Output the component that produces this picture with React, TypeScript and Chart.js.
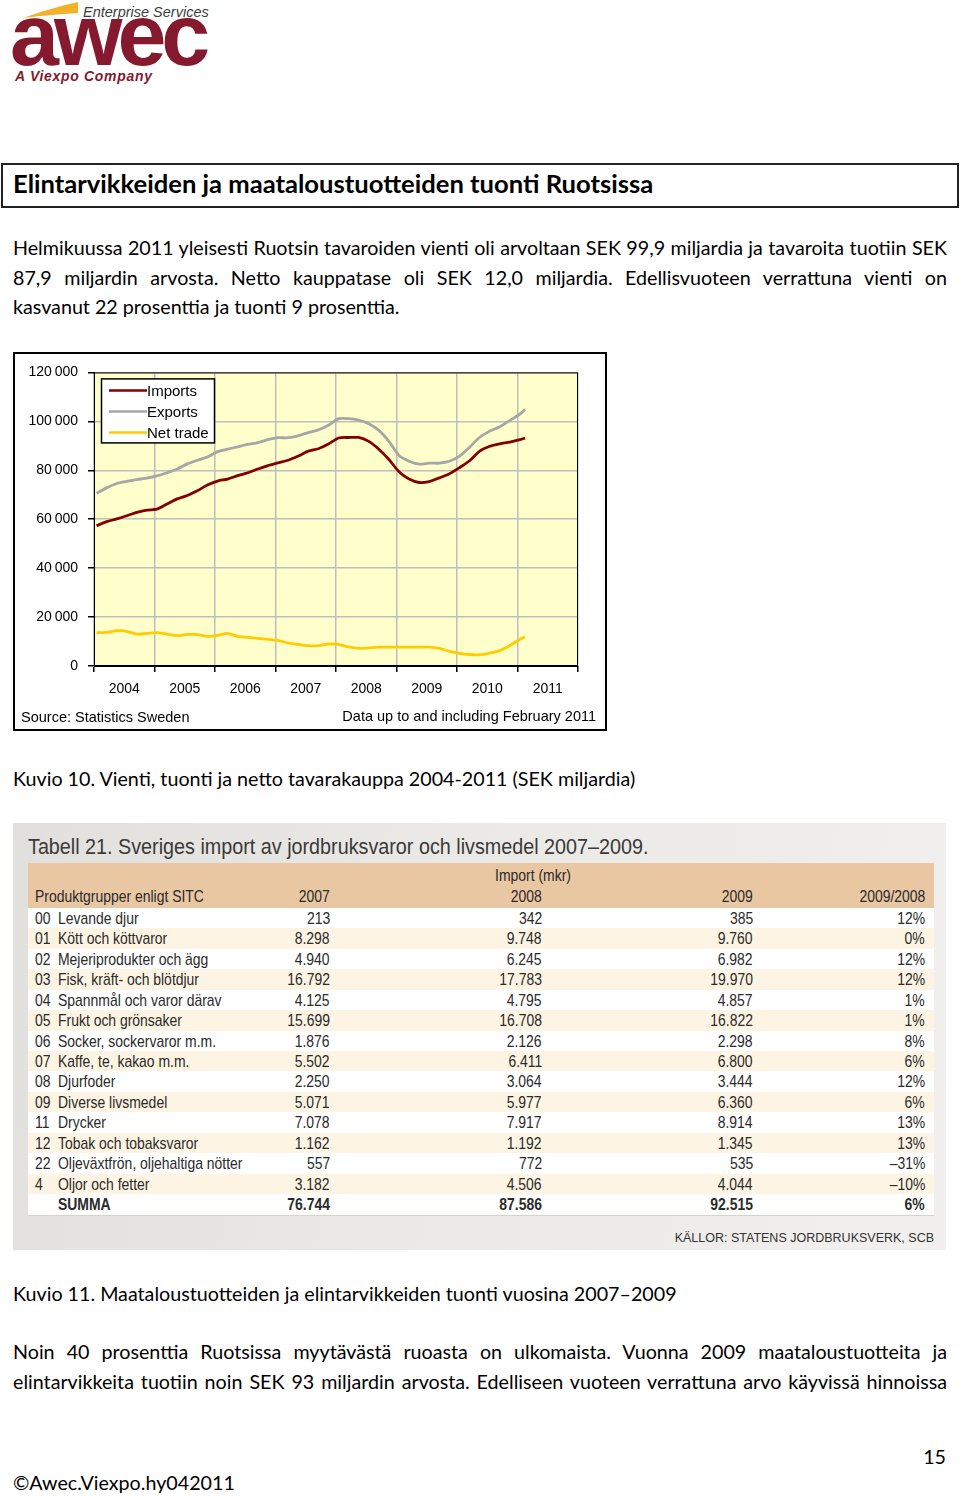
import React, { useEffect, useRef } from "react";
import { Chart, registerables } from "chart.js";

Chart.register(...registerables);

// ---------------- chart data ----------------
const MONTHS = [
  "2004-01", "2004-03", "2004-05", "2004-07", "2004-09", "2004-11",
  "2005-01", "2005-03", "2005-05", "2005-07", "2005-09", "2005-11",
  "2006-01", "2006-03", "2006-05", "2006-07", "2006-09", "2006-11",
  "2007-01", "2007-03", "2007-05", "2007-07", "2007-09", "2007-11",
  "2008-01", "2008-03", "2008-05", "2008-07", "2008-09", "2008-11",
  "2009-01", "2009-03", "2009-05", "2009-07", "2009-09", "2009-11",
  "2010-01", "2010-03", "2010-05", "2010-07", "2010-09", "2010-11",
  "2011-01", "2011-02",
];

const IMPORTS = [
  57300, 59000, 60100, 61400, 62800, 63700,
  64100, 66200, 68300, 69700, 71600, 74000,
  75600, 76400, 77800, 79000, 80500, 81900,
  83000, 84100, 85800, 87800, 88800, 90700,
  93200, 93400, 93400, 91800, 88600, 84400,
  79400, 76400, 75000, 75400, 76900, 78600,
  81100, 83900, 87800, 89800, 90800, 91500,
  92500, 93200,
];

const EXPORTS = [
  70600, 72800, 74600, 75500, 76200, 76800,
  77700, 79000, 80500, 82600, 84100, 85400,
  87600, 88600, 89600, 90600, 91300, 92500,
  93300, 93300, 94100, 95400, 96500, 98400,
  101100, 101100, 100500, 99000, 96300, 91800,
  86000, 83700, 82500, 82900, 82900, 83700,
  85800, 89400, 93500, 96000, 97800, 100400,
  103000, 104900,
];

const NET_TRADE = [
  13600, 13700, 14400, 14200, 13000, 13300,
  13600, 13000, 12400, 12900, 12800, 12100,
  12500, 13300, 12100, 11700, 11300, 10900,
  10500, 9400, 8800, 8300, 8300, 9000,
  8800, 7800, 7200, 7400, 7700, 7700,
  7700, 7700, 7700, 7700, 7200, 6000,
  5200, 4700, 4600, 5300, 6300, 8400,
  10900, 11900,
];

const SERIES_NAMES = ["Imports", "Exports", "Net trade"];
const SERIES_COLORS = ["#820000", "#A6A6A6", "#FFCC00"];
const YEAR_LABELS = ["2004", "2005", "2006", "2007", "2008", "2009", "2010", "2011"];
const Y_MIN = 0;
const Y_MAX = 120000;
const Y_STEP = 20000;
const SOURCE_TEXT = "Source: Statistics Sweden";
const NOTE_TEXT = "Data up to and including February 2011";

// ---------------- page text data ----------------
const HEADING = "Elintarvikkeiden ja maataloustuotteiden tuonti Ruotsissa";
const P1_LINES = [
  "Helmikuussa 2011 yleisesti Ruotsin tavaroiden vienti oli arvoltaan SEK 99,9 miljardia ja tavaroita tuotiin SEK",
  "87,9 miljardin arvosta. Netto kauppatase oli SEK 12,0 miljardia. Edellisvuoteen verrattuna vienti on",
  "kasvanut 22 prosenttia ja tuonti 9 prosenttia.",
];
const CAPTION_10 = "Kuvio 10. Vienti, tuonti ja netto tavarakauppa 2004-2011 (SEK miljardia)";
const CAPTION_11 = "Kuvio 11. Maataloustuotteiden ja elintarvikkeiden tuonti vuosina 2007–2009";
const P2_LINES = [
  "Noin 40 prosenttia Ruotsissa myytävästä ruoasta on ulkomaista. Vuonna 2009 maataloustuotteita ja",
  "elintarvikkeita tuotiin noin SEK 93 miljardin arvosta. Edelliseen vuoteen verrattuna arvo käyvissä hinnoissa",
];

const TABLE_TITLE = "Tabell 21. Sveriges import av jordbruksvaror och livsmedel 2007–2009.";
const TABLE_GROUP = "Import (mkr)";
const TABLE_HEAD = ["Produktgrupper enligt SITC", "2007", "2008", "2009", "2009/2008"];
const TABLE_CODES = ["00", "01", "02", "03", "04", "05", "06", "07", "08", "09", "11", "12", "22", "4", ""];
const TABLE_NAMES = [
  "Levande djur", "Kött och köttvaror", "Mejeriprodukter och ägg", "Fisk, kräft- och blötdjur",
  "Spannmål och varor därav", "Frukt och grönsaker", "Socker, sockervaror m.m.", "Kaffe, te, kakao m.m.",
  "Djurfoder", "Diverse livsmedel", "Drycker", "Tobak och tobaksvaror",
  "Oljeväxtfrön, oljehaltiga nötter", "Oljor och fetter", "SUMMA",
];
const V2007 = ["213", "8.298", "4.940", "16.792", "4.125", "15.699", "1.876", "5.502", "2.250", "5.071", "7.078", "1.162", "557", "3.182", "76.744"];
const V2008 = ["342", "9.748", "6.245", "17.783", "4.795", "16.708", "2.126", "6.411", "3.064", "5.977", "7.917", "1.192", "772", "4.506", "87.586"];
const V2009 = ["385", "9.760", "6.982", "19.970", "4.857", "16.822", "2.298", "6.800", "3.444", "6.360", "8.914", "1.345", "535", "4.044", "92.515"];
const PCT = ["12%", "0%", "12%", "12%", "1%", "1%", "8%", "6%", "12%", "6%", "13%", "13%", "–31%", "–10%", "6%"];
const TABLE_SOURCE = "KÄLLOR: STATENS JORDBRUKSVERK, SCB";

const PAGE_NO = "15";
const FOOTER = "©Awec.Viexpo.hy042011";

// ---------------- helpers ----------------
const monthToX = (m: string) => {
  const [y, mo] = m.split("-").map(Number);
  return y + (mo - 0.5) / 12;
};

const CHART_FONT = "'Liberation Sans', Arial, sans-serif";

const isHalf = (v: number) => Math.abs(v % 1) > 0.01;

const bgPlugin = {
  id: "plotBg",
  beforeDraw(chart: any) {
    const { ctx, chartArea } = chart;
    ctx.save();
    ctx.fillStyle = "#FFFFCC";
    ctx.fillRect(chartArea.left, chartArea.top, chartArea.right - chartArea.left, chartArea.bottom - chartArea.top);
    ctx.restore();
  },
};

const framePlugin = {
  id: "plotFrame",
  afterDraw(chart: any) {
    const { ctx, chartArea } = chart;
    ctx.save();
    ctx.strokeStyle = "#000";
    ctx.lineWidth = 1;
    ctx.strokeRect(chartArea.left + 0.5, chartArea.top + 0.5, chartArea.right - chartArea.left - 1, chartArea.bottom - chartArea.top - 1);

    // legend
    const bx = chartArea.left + 7;
    const by = chartArea.top + 6;
    const bw = 113;
    const bh = 64;
    ctx.fillStyle = "#fff";
    ctx.fillRect(bx, by, bw, bh);
    ctx.strokeStyle = "#000";
    ctx.lineWidth = 1.5;
    ctx.strokeRect(bx + 0.5, by + 0.5, bw, bh);
    ctx.font = `15px ${CHART_FONT}`;
    ctx.textBaseline = "middle";
    ctx.textAlign = "left";
    chart.data.datasets.forEach((ds: any, i: number) => {
      const y = by + 12 + i * 21;
      ctx.strokeStyle = ds.borderColor;
      ctx.lineWidth = 2.5;
      ctx.beginPath();
      ctx.moveTo(bx + 8, y);
      ctx.lineTo(bx + 46, y);
      ctx.stroke();
      ctx.fillStyle = "#000";
      ctx.fillText(ds.label, bx + 46, y + 1);
    });

    // footer notes
    const h = chart.height;
    ctx.font = `14.5px ${CHART_FONT}`;
    ctx.fillStyle = "#000";
    ctx.textAlign = "left";
    ctx.fillText(SOURCE_TEXT, 6, h - 11);
    ctx.textAlign = "right";
    ctx.fillText(NOTE_TEXT, chart.width - 9, h - 12);
    ctx.restore();
  },
};

function TradeChart() {
  const ref = useRef<HTMLCanvasElement | null>(null);
  useEffect(() => {
    if (!ref.current) return;
    const series = [IMPORTS, EXPORTS, NET_TRADE];
    const chart = new Chart(ref.current, {
      type: "line",
      data: {
        datasets: series.map((vals, i) => ({
          label: SERIES_NAMES[i],
          data: MONTHS.map((m, j) => ({ x: monthToX(m), y: vals[j] })),
          borderColor: SERIES_COLORS[i],
          backgroundColor: SERIES_COLORS[i],
          borderWidth: 2.8,
          pointRadius: 0,
          tension: 0.25,
          fill: false,
        })),
      },
      options: {
        animation: false,
        responsive: false,
        devicePixelRatio: 1,
        layout: { padding: { top: 18, right: 27, bottom: 23, left: 0 } },
        plugins: { legend: { display: false }, tooltip: { enabled: false } },
        scales: {
          x: {
            type: "linear",
            min: 2004,
            max: 2012,
            afterBuildTicks: (s: any) => {
              const t: any[] = [];
              for (let y = 2004; y <= 2012; y++) {
                t.push({ value: y });
                if (y < 2012) t.push({ value: y + 0.5 });
              }
              s.ticks = t;
            },
            afterFit: (s: any) => {
              s.height = 40;
            },
            ticks: {
              autoSkip: false,
              maxRotation: 0,
              minRotation: 0,
              padding: 9,
              color: "#000",
              font: { family: CHART_FONT, size: 14 },
              callback: (v: any) => (isHalf(Number(v)) ? YEAR_LABELS[Math.floor(Number(v)) - 2004] : ""),
            },
            grid: {
              color: (c: any) => (c.tick && isHalf(c.tick.value) ? "rgba(0,0,0,0)" : "#BEBEBE"),
              tickColor: (c: any) => (c.tick && isHalf(c.tick.value) ? "rgba(0,0,0,0)" : "#000"),
              lineWidth: 1.5,
              tickLength: 6,
            },
            border: { color: "#000", width: 1 },
          },
          y: {
            min: Y_MIN,
            max: Y_MAX,
            afterFit: (s: any) => {
              s.width = 79;
            },
            ticks: {
              stepSize: Y_STEP,
              padding: 10,
              color: "#000",
              font: { family: CHART_FONT, size: 14 },
              callback: (v: any) => {
                const n = Number(v);
                if (n === 0) return "0";
                const th = Math.floor(n / 1000);
                const rest = String(n % 1000).padStart(3, "0");
                return `${th}\u2009${rest}`;
              },
            },
            grid: { color: "#BEBEBE", lineWidth: 1.5, tickColor: "#000", tickLength: 6 },
            border: { color: "#000", width: 1 },
          },
        },
      } as any,
      plugins: [bgPlugin, framePlugin],
    });
    return () => chart.destroy();
  }, []);
  return <canvas ref={ref} width={590} height={375} style={{ display: "block" }} />;
}

const BODY_FONT = "Lato, 'Open Sans', sans-serif";
const TABLE_FONT = "'Liberation Sans', Arial, sans-serif";
const SQUEEZE = 0.82;

function Line({ text, top, justify }: { text: string; top: number; justify: boolean }) {
  return (
    <div
      style={{
        position: "absolute",
        left: 13,
        top,
        width: 934,
        fontSize: 19.7,
        lineHeight: "29.5px",
        textAlign: justify ? "justify" : "left",
        textAlignLast: justify ? "justify" : "left",
        wordSpacing: justify ? "-2px" : "normal",
        color: "#000",
      } as any}
    >
      {text}
    </div>
  );
}

function Sq({ t, left, right, bold, center }: { t: string; left?: number; right?: number; bold?: boolean; center?: boolean }) {
  const style: any = {
    position: "absolute",
    top: 0,
    display: "inline-block",
    whiteSpace: "nowrap",
    fontWeight: bold ? 700 : 400,
  };
  if (center) {
    style.left = left;
    style.transform = `translateX(-50%) scaleX(${SQUEEZE})`;
    style.transformOrigin = "center";
  } else if (right !== undefined) {
    style.right = right;
    style.transform = `scaleX(${SQUEEZE})`;
    style.transformOrigin = "right center";
  } else {
    style.left = left;
    style.transform = `scaleX(${SQUEEZE})`;
    style.transformOrigin = "left center";
  }
  return <span style={style}>{t}</span>;
}

function Table() {
  const rowH = 20.43;
  const colRights = [604, 392, 181, 9];
  return (
    <div
      style={{
        position: "absolute",
        left: 13,
        top: 823,
        width: 933,
        height: 427,
        background: "linear-gradient(100deg, #e2e0dc 0%, #ebe9e6 45%, #f1f0ee 100%)",
        fontFamily: TABLE_FONT,
        color: "#2b2b2b",
      }}
    >
      <div
        style={{
          position: "absolute",
          left: 15,
          top: 10,
          fontSize: 22,
          lineHeight: "28px",
          color: "#3a3a3a",
          whiteSpace: "nowrap",
          transform: "scaleX(0.898)",
          transformOrigin: "left center",
        }}
      >
        {TABLE_TITLE}
      </div>
      <div style={{ position: "absolute", left: 15, top: 40, width: 906, height: 45, background: "#E9C7A3", fontSize: 17 }}>
        <div style={{ position: "absolute", left: 0, top: 3, width: 906, height: 20, lineHeight: "20px" }}>
          <Sq t={TABLE_GROUP} left={505} center />
        </div>
        <div style={{ position: "absolute", left: 0, top: 23, width: 906, height: 22, lineHeight: "22px" }}>
          <Sq t={TABLE_HEAD[0]} left={7} />
          <Sq t={TABLE_HEAD[1]} right={colRights[0]} />
          <Sq t={TABLE_HEAD[2]} right={colRights[1]} />
          <Sq t={TABLE_HEAD[3]} right={colRights[2]} />
          <Sq t={TABLE_HEAD[4]} right={colRights[3]} />
        </div>
      </div>
      <div
        style={{
          position: "absolute",
          left: 15,
          top: 85,
          width: 906,
          height: rowH * TABLE_NAMES.length + 1,
          background: "#fff",
          boxShadow: "0 1px 0 #d8d2ca",
        }}
      >
        {TABLE_NAMES.map((name, i) => {
          const bold = i === TABLE_NAMES.length - 1;
          return (
            <div
              key={i}
              style={{
                position: "absolute",
                left: 0,
                top: i * rowH,
                width: 906,
                height: rowH,
                lineHeight: `${rowH + 2}px`,
                fontSize: 17,
                background: i % 2 === 1 ? "#FDF4E3" : "#FFFFFF",
              }}
            >
              {TABLE_CODES[i] ? <Sq t={TABLE_CODES[i]} left={7} /> : null}
              <Sq t={name} left={30} bold={bold} />
              <Sq t={V2007[i]} right={colRights[0]} bold={bold} />
              <Sq t={V2008[i]} right={colRights[1]} bold={bold} />
              <Sq t={V2009[i]} right={colRights[2]} bold={bold} />
              <Sq t={PCT[i]} right={colRights[3]} bold={bold} />
            </div>
          );
        })}
      </div>
      <div
        style={{
          position: "absolute",
          right: 12,
          top: 407,
          fontSize: 12.5,
          lineHeight: "16px",
          color: "#333",
          whiteSpace: "nowrap",
        }}
      >
        {TABLE_SOURCE}
      </div>
    </div>
  );
}

function Logo() {
  return (
    <>
      <svg style={{ position: "absolute", left: 0, top: 0 }} width={90} height={24}>
        <path d="M23,18 C40,12 60,6 78,2 L78,13 C60,14 40,16 23,18 Z" fill="#F3B12C" />
      </svg>
      <div
        style={{
          position: "absolute",
          left: 83,
          top: 5,
          fontFamily: "'Liberation Sans', Arial, sans-serif",
          fontStyle: "italic",
          fontSize: 14.5,
          lineHeight: "14px",
          color: "#3d3d3d",
          whiteSpace: "nowrap",
        }}
      >
        Enterprise Services
      </div>
      <div
        style={{
          position: "absolute",
          left: 10,
          top: 20,
          fontFamily: "'Liberation Sans', Arial, sans-serif",
          fontWeight: 700,
          fontSize: 88,
          lineHeight: "30px",
          letterSpacing: -5,
          color: "#85192D",
          whiteSpace: "nowrap",
        }}
      >
        awec
      </div>
      <div
        style={{
          position: "absolute",
          left: 15,
          top: 68,
          fontFamily: "'Liberation Sans', Arial, sans-serif",
          fontStyle: "italic",
          fontWeight: 700,
          fontSize: 14,
          lineHeight: "16px",
          letterSpacing: 0.7,
          color: "#85192D",
          whiteSpace: "nowrap",
        }}
      >
        A Viexpo Company
      </div>
    </>
  );
}

export default function App() {
  return (
    <div
      style={{
        position: "absolute",
        left: 0,
        top: 0,
        width: 960,
        height: 1496,
        background: "#fff",
        fontFamily: BODY_FONT,
        color: "#000",
        overflow: "hidden",
      }}
    >
      <Logo />
      <div
        style={{
          position: "absolute",
          left: 1,
          top: 163,
          width: 958,
          height: 45,
          border: "2px solid #222",
          boxSizing: "border-box",
        }}
      >
        <div style={{ position: "absolute", left: 10, top: 2, fontSize: 25.6, fontWeight: 700, lineHeight: "32px", whiteSpace: "nowrap" }}>
          {HEADING}
        </div>
      </div>
      {P1_LINES.map((t, i) => (
        <Line key={i} text={t} top={233 + i * 29.5} justify={i < P1_LINES.length - 1} />
      ))}
      <div
        style={{
          position: "absolute",
          left: 13,
          top: 352,
          width: 594,
          height: 379,
          border: "2px solid #000",
          boxSizing: "border-box",
          background: "#fff",
        }}
      >
        <TradeChart />
      </div>
      <Line text={CAPTION_10} top={764} justify={false} />
      <Table />
      <Line text={CAPTION_11} top={1279} justify={false} />
      {P2_LINES.map((t, i) => (
        <Line key={i} text={t} top={1337 + i * 29.8} justify={true} />
      ))}
      <div style={{ position: "absolute", right: 14, top: 1442, fontSize: 19.7, lineHeight: "29.5px" }}>{PAGE_NO}</div>
      <Line text={FOOTER} top={1468} justify={false} />
    </div>
  );
}
